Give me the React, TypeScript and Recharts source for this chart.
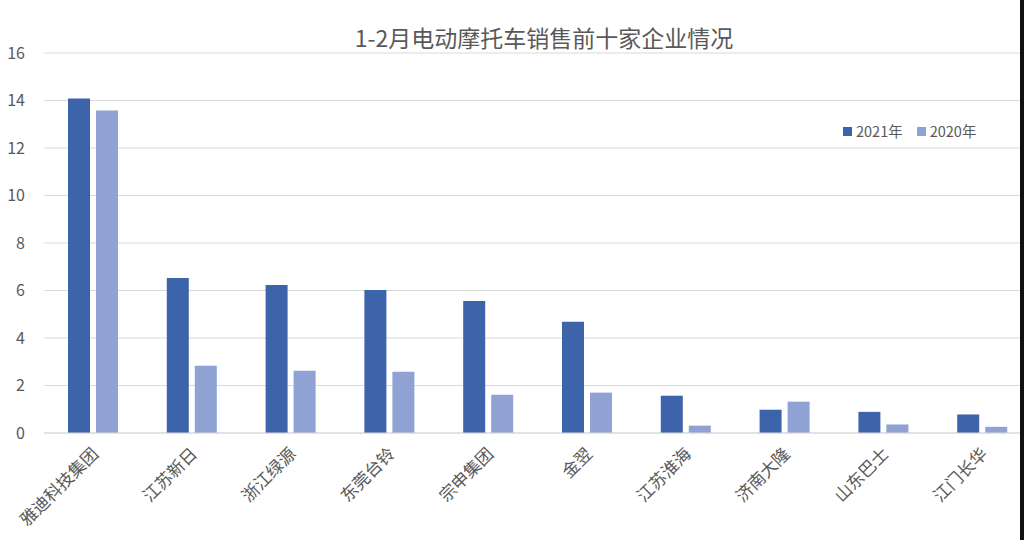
import { Bar, BarChart, CartesianGrid, XAxis, YAxis } from "recharts";

const companies = [
  "雅迪科技集团",
  "江苏新日",
  "浙江绿源",
  "东莞台铃",
  "宗申集团",
  "金翌",
  "江苏淮海",
  "济南大隆",
  "山东巴士",
  "江门长华",
];
const sales2021 = [14.08, 6.53, 6.23, 6.02, 5.56, 4.68, 1.57, 0.98, 0.89, 0.78];
const sales2020 = [13.58, 2.83, 2.62, 2.58, 1.61, 1.7, 0.31, 1.32, 0.36, 0.26];
const yTicks = [0, 2, 4, 6, 8, 10, 12, 14, 16];

const FONT = '"Noto Sans CJK SC", "Microsoft YaHei", sans-serif';
const C2021 = "#3d63aa";
const C2020 = "#8fa2d3";

const data = companies.map((name, i) => ({
  name,
  y2021: sales2021[i],
  y2020: sales2020[i],
}));

function CategoryTick({ x, y, payload }: any) {
  return (
    <text
      x={x + 6}
      y={y + 14}
      transform={`rotate(-45 ${x + 6} ${y + 14})`}
      textAnchor="end"
      fontSize={17}
      fill="#595959"
      fontFamily={FONT}
    >
      {payload.value}
    </text>
  );
}

function LegendItem({ color, label }: { color: string; label: string }) {
  return (
    <span style={{ display: "inline-flex", alignItems: "center", marginRight: 14 }}>
      <span style={{ width: 9, height: 9, background: color, marginRight: 4 }} />
      {label}
    </span>
  );
}

export default function App() {
  return (
    <div
      style={{
        position: "absolute",
        left: 0,
        top: 0,
        width: 1024,
        height: 540,
        overflow: "hidden",
        background: "#fff",
        fontFamily: FONT,
      }}
    >
      <div
        style={{
          position: "absolute",
          top: 20,
          left: 0,
          width: 1088,
          textAlign: "center",
          fontSize: 23,
          color: "#595959",
          lineHeight: "34px",
        }}
      >
        1-2月电动摩托车销售前十家企业情况
      </div>
      <div
        style={{
          position: "absolute",
          top: 121,
          left: 843,
          fontSize: 14.5,
          color: "#595959",
          display: "flex",
          lineHeight: "20px",
        }}
      >
        <LegendItem color={C2021} label="2021年" />
        <LegendItem color={C2020} label="2020年" />
      </div>
      <BarChart
        width={1040}
        height={540}
        data={data}
        barSize={22}
        barGap={6}
        margin={{ top: 53, right: 8, left: 0, bottom: 0 }}
      >
        <CartesianGrid vertical={false} stroke="#d9d9d9" />
        <XAxis
          dataKey="name"
          height={107}
          interval={0}
          tickLine={false}
          axisLine={{ stroke: "#d9d9d9" }}
          tick={<CategoryTick />}
        />
        <YAxis
          width={44}
          domain={[0, 16]}
          ticks={yTicks}
          tickLine={false}
          axisLine={false}
          tickMargin={13}
          tick={{ fontSize: 16, fill: "#595959", fontFamily: FONT }}
        />
        <Bar dataKey="y2021" fill={C2021} isAnimationActive={false} />
        <Bar dataKey="y2020" fill={C2020} isAnimationActive={false} />
      </BarChart>
      <div
        style={{
          position: "absolute",
          top: 0,
          left: 1020,
          width: 4,
          height: 540,
          background: "#111",
        }}
      />
    </div>
  );
}
